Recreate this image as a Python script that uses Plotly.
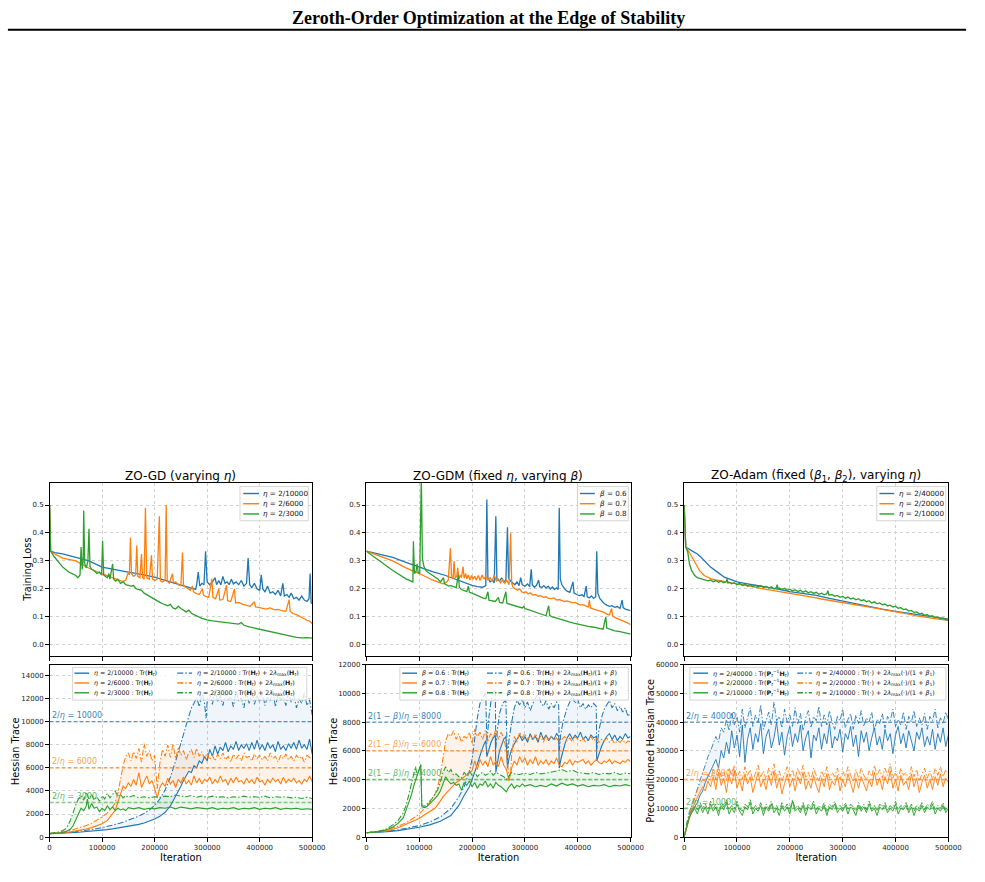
import plotly.graph_objects as go

# ---------------- colours ----------------
BLUE, ORANGE, GREEN = "#1f77b4", "#ff7f0e", "#2ca02c"
FILL_BLUE = "rgba(31,119,180,0.07)"
FILL_ORANGE = "rgba(255,127,14,0.09)"
FILL_GREEN = "rgba(44,160,44,0.09)"

# ---------------- axes values ----------------
X_MAX = 500000
X_TICKS = [0, 100000, 200000, 300000, 400000, 500000]
LOSS_TICKS = [0.0, 0.1, 0.2, 0.3, 0.4, 0.5]
LOSS_RANGE = [-0.041, 0.579]
GD_TR_TICKS = [0, 2000, 4000, 6000, 8000, 10000, 12000, 14000]
GD_TR_RANGE = [0, 14950]
GDM_TR_TICKS = [0, 2000, 4000, 6000, 8000, 10000, 12000]
GDM_TR_RANGE = [0, 12000]
ADAM_TR_TICKS = [0, 10000, 20000, 30000, 40000, 50000, 60000]
ADAM_TR_RANGE = [0, 60000]

# ---------------- labels ----------------
GD_NAMES = ["<i>η</i> = 2/10000", "<i>η</i> = 2/6000", "<i>η</i> = 2/3000"]
GDM_NAMES = ["<i>β</i> = 0.6", "<i>β</i> = 0.7", "<i>β</i> = 0.8"]
ADAM_NAMES = ["<i>η</i> = 2/40000", "<i>η</i> = 2/20000", "<i>η</i> = 2/10000"]
HT = "<b>H</b><sub><i>t</i></sub>"
GD_TR_SUFFIX = " : Tr(" + HT + ")"
GD_BOUND_SUFFIX = " : Tr(" + HT + ") + 2<i>λ</i><sub>max</sub>(" + HT + ")"
GDM_TR_SUFFIX = " : Tr(" + HT + ")"
GDM_BOUND_SUFFIX = " : Tr(" + HT + ") + 2<i>λ</i><sub>max</sub>(" + HT + ")/(1 + <i>β</i>)"
ADAM_TR_SUFFIX = " : Tr(<b>P</b><sub><i>t</i></sub><sup>−1</sup>" + HT + ")"
ADAM_BOUND_SUFFIX = " : Tr(·) + 2<i>λ</i><sub>max</sub>(·)/(1 + <i>β</i><sub>1</sub>)"

GD_THRESH = [10000, 6000, 3000]
GD_THRESH_TEXT = ["2/<i>η</i> = 10000", "2/<i>η</i> = 6000", "2/<i>η</i> = 3000"]
GDM_THRESH = [8000, 6000, 4000]
GDM_THRESH_TEXT = ["2(1 − <i>β</i>)/<i>η</i> = 8000", "2(1 − <i>β</i>)/<i>η</i> = 6000",
                   "2(1 − <i>β</i>)/<i>η</i> = 4000"]
ADAM_THRESH = [40000, 20000, 10000]
ADAM_THRESH_TEXT = ["2/<i>η</i> = 40000", "2/<i>η</i> = 20000", "2/<i>η</i> = 10000"]

TITLES = ["ZO-GD (varying <i>η</i>)", "ZO-GDM (fixed <i>η</i>, varying <i>β</i>)",
          "ZO-Adam (fixed (<i>β</i><sub>1</sub>, <i>β</i><sub>2</sub>), varying <i>η</i>)"]
Y_TITLES = ["Training Loss", "Hessian Trace", "Hessian Trace", "Preconditioned Hessian Trace"]
HEADER = "<b>Zeroth-Order Optimization at the Edge of Stability</b>"

# ---------------- training loss (iteration in thousands, loss) ----------------
GD_LOSS_BLUE = [(0,0.5),(2,0.335),(10,0.33),(25,0.325),(50,0.313),(75,0.3),(100,0.278),(125,0.268),(150,0.26),
    (175,0.252),(200,0.242),(225,0.228),(250,0.213),(262,0.205),(272,0.2),(278,0.198),(280,0.215),(283,0.26),
    (286,0.21),(290,0.22),(294,0.215),(297,0.335),(300,0.225),(305,0.215),(310,0.225),(315,0.24),(318,0.215),
    (322,0.23),(326,0.215),(330,0.245),(334,0.22),(338,0.225),(342,0.215),(346,0.235),(350,0.218),(355,0.225),
    (360,0.215),(365,0.23),(370,0.21),(375,0.22),(378,0.31),(381,0.215),(385,0.205),(390,0.22),(395,0.2),
    (400,0.195),(403,0.25),(406,0.2),(410,0.19),(415,0.21),(420,0.185),(425,0.19),(430,0.18),(435,0.195),
    (440,0.175),(444,0.22),(447,0.175),(452,0.18),(456,0.17),(460,0.185),(465,0.165),(470,0.17),(475,0.16),
    (480,0.175),(485,0.16),(490,0.155),(494,0.165),(496,0.255),(498,0.15),(500,0.148)]
GD_LOSS_ORANGE = [(0,0.5),(2,0.335),(10,0.325),(25,0.31),(50,0.3),(75,0.274),(100,0.254),(125,0.236),(140,0.226),
    (145,0.232),(150,0.26),(152,0.25),(154,0.384),(156,0.255),(160,0.245),(164,0.25),(166,0.355),(168,0.245),
    (172,0.24),(175,0.325),(177,0.242),(180,0.235),(182.5,0.49),(185,0.24),(190,0.235),(194,0.32),(196,0.235),
    (200,0.23),(205,0.235),(209,0.46),(211,0.23),(215,0.225),(220,0.232),(222,0.5),(224,0.228),(228,0.22),
    (234,0.254),(236,0.22),(240,0.225),(245,0.215),(250,0.212),(253,0.33),(255,0.21),(260,0.205),(265,0.2),
    (268,0.195),(272,0.21),(274,0.19),(278,0.185),(285,0.18),(291,0.2),(293,0.178),(298,0.172),(303,0.17),
    (309,0.236),(311,0.17),(316,0.165),(322,0.2),(324,0.16),(330,0.162),(337,0.213),(339,0.158),(345,0.155),
    (352,0.2),(354,0.15),(360,0.152),(368,0.145),(375,0.142),(382,0.138),(390,0.154),(392,0.136),(398,0.134),
    (405,0.13),(412,0.128),(420,0.132),(428,0.125),(435,0.127),(442,0.122),(450,0.12),(456,0.162),(458,0.12),
    (463,0.112),(470,0.108),(477,0.1),(484,0.095),(490,0.088),(495,0.085),(500,0.076)]
GD_LOSS_GREEN = [(0,0.5),(2,0.335),(9,0.315),(25,0.278),(37,0.26),(50,0.248),(54,0.24),(58,0.25),(60,0.35),
    (62,0.27),(64,0.3),(65,0.48),(67,0.29),(70,0.275),(73,0.3),(75,0.415),(77,0.28),(80,0.27),(85,0.265),
    (90,0.255),(95,0.26),(99,0.25),(101,0.372),(103,0.25),(106,0.245),(110,0.24),(113,0.255),(115,0.235),
    (120,0.29),(122,0.235),(126,0.228),(130,0.235),(135,0.22),(140,0.225),(145,0.215),(150,0.213),(155,0.21),
    (160,0.212),(165,0.2),(170,0.198),(175,0.195),(180,0.185),(185,0.18),(190,0.175),(195,0.17),(200,0.165),
    (205,0.158),(210,0.152),(215,0.147),(220,0.142),(225,0.14),(230,0.145),(235,0.132),(240,0.128),(245,0.138),
    (250,0.13),(255,0.125),(260,0.118),(265,0.124),(270,0.113),(275,0.108),(280,0.103),(285,0.098),(290,0.095),
    (295,0.092),(300,0.089),(310,0.086),(320,0.084),(330,0.081),(340,0.079),(350,0.077),(360,0.074),(365,0.08),
    (370,0.07),(380,0.064),(390,0.06),(400,0.055),(410,0.05),(420,0.046),(430,0.042),(440,0.038),(450,0.035),
    (460,0.03),(470,0.027),(480,0.025),(490,0.026),(500,0.024)]

GDM_LOSS_BLUE = [(0,0.335),(25,0.325),(50,0.313),(75,0.295),(100,0.278),(125,0.262),(150,0.248),(175,0.23),
    (200,0.213),(210,0.208),(220,0.206),(226,0.212),(228,0.52),(230,0.24),(234,0.225),(238,0.232),(242,0.222),
    (245,0.46),(247,0.235),(252,0.228),(256,0.24),(260,0.225),(264,0.232),(267,0.42),(269,0.24),(273,0.228),
    (277,0.22),(281,0.215),(285,0.225),(289,0.212),(292,0.24),(295,0.215),(300,0.21),(305,0.218),(309,0.208),
    (312,0.27),(314,0.215),(318,0.206),(322,0.213),(326,0.232),(328,0.208),(332,0.205),(336,0.212),(340,0.203),
    (344,0.21),(348,0.2),(352,0.207),(356,0.198),(360,0.204),(363,0.198),(365,0.49),(367,0.235),(370,0.215),
    (375,0.2),(380,0.192),(385,0.188),(391,0.225),(393,0.185),(398,0.18),(403,0.176),(408,0.179),(412,0.173),
    (416,0.21),(418,0.172),(422,0.168),(426,0.175),(430,0.166),(434,0.172),(436,0.335),(438,0.185),(442,0.165),
    (446,0.155),(450,0.148),(455,0.142),(460,0.138),(465,0.14),(470,0.134),(475,0.137),(480,0.13),(484,0.16),
    (486,0.133),(490,0.128),(495,0.126),(500,0.122)]
GDM_LOSS_ORANGE = [(0,0.335),(25,0.318),(50,0.3),(75,0.275),(100,0.255),(125,0.232),(145,0.218),(152,0.225),
    (155,0.232),(159,0.345),(161,0.25),(164,0.235),(166,0.3),(168,0.24),(171,0.245),(173,0.275),(175,0.235),
    (178,0.25),(180,0.24),(183,0.28),(185,0.238),(188,0.255),(190,0.236),(193,0.25),(196,0.232),(199,0.248),
    (202,0.235),(205,0.245),(208,0.232),(212,0.248),(215,0.23),(219,0.25),(222,0.235),(226,0.245),(230,0.232),
    (234,0.24),(238,0.228),(242,0.25),(246,0.228),(250,0.235),(254,0.222),(258,0.232),(262,0.22),(266,0.23),
    (270,0.215),(273,0.4),(275,0.22),(278,0.205),(282,0.2),(286,0.195),(290,0.2),(294,0.19),(298,0.186),
    (302,0.19),(306,0.182),(310,0.186),(315,0.178),(320,0.18),(325,0.174),(330,0.176),(335,0.17),(340,0.172),
    (345,0.166),(350,0.165),(355,0.168),(360,0.16),(365,0.162),(370,0.158),(375,0.155),(380,0.157),(385,0.152),
    (390,0.15),(395,0.152),(400,0.146),(405,0.142),(410,0.144),(415,0.138),(420,0.135),(422,0.16),(424,0.132),
    (430,0.128),(435,0.125),(440,0.122),(445,0.12),(450,0.116),(455,0.11),(460,0.107),(464,0.13),(466,0.104),
    (470,0.098),(475,0.094),(480,0.09),(485,0.088),(490,0.082),(495,0.078),(500,0.072)]
GDM_LOSS_GREEN = [(0,0.335),(25,0.3),(50,0.266),(75,0.236),(88,0.225),(89,0.37),(91,0.255),(94,0.262),(96,0.29),
    (98,0.26),(101,0.255),(104,0.6),(106,0.31),(109,0.28),(113,0.265),(118,0.258),(124,0.25),(130,0.242),
    (136,0.235),(140,0.225),(146,0.24),(148,0.218),(152,0.215),(156,0.21),(160,0.212),(165,0.208),(170,0.205),
    (174,0.25),(176,0.205),(180,0.198),(185,0.195),(190,0.19),(193,0.21),(195,0.188),(200,0.185),(205,0.18),
    (210,0.175),(215,0.172),(220,0.168),(226,0.165),(230,0.19),(232,0.16),(238,0.158),(244,0.155),(250,0.17),
    (252,0.152),(258,0.15),(264,0.19),(266,0.148),(272,0.145),(278,0.142),(284,0.14),(290,0.135),(295,0.132),
    (298,0.138),(300,0.13),(305,0.127),(310,0.124),(315,0.12),(320,0.117),(325,0.114),(330,0.11),(335,0.107),
    (340,0.104),(345,0.14),(347,0.105),(352,0.1),(360,0.095),(368,0.09),(376,0.086),(384,0.082),(392,0.078),
    (400,0.074),(410,0.07),(420,0.066),(430,0.063),(440,0.06),(448,0.056),(453,0.1),(455,0.06),(462,0.055),
    (470,0.05),(480,0.047),(490,0.042),(500,0.038)]

ADAM_LOSS_BLUE = [(0,0.5),(3,0.35),(14,0.337),(25,0.325),(32,0.313),(38,0.3),(50,0.278),(63,0.26),(76,0.242),
    (90,0.232),(100,0.225),(120,0.218),(140,0.212),(160,0.205),(180,0.198),(200,0.19),(225,0.184),(250,0.177),
    (275,0.166),(300,0.156),(325,0.146),(350,0.136),(375,0.128),(400,0.12),(425,0.113),(450,0.106),(475,0.099),
    (500,0.092)]
ADAM_LOSS_ORANGE = [(0,0.5),(3,0.35),(10,0.33),(20,0.295),(29,0.266),(38,0.248),(51,0.236),(60,0.232),(70,0.228),
    (80,0.225),(90,0.222),(100,0.218),(110,0.215),(120,0.212),(130,0.207),(140,0.204),(150,0.2),(160,0.197),
    (170,0.193),(180,0.19),(190,0.186),(200,0.183),(210,0.18),(220,0.177),(230,0.174),(240,0.171),(250,0.168),
    (260,0.164),(270,0.161),(280,0.157),(290,0.154),(300,0.15),(310,0.148),(320,0.145),(330,0.142),(340,0.139),
    (350,0.136),(360,0.132),(370,0.129),(380,0.125),(390,0.122),(400,0.118),(410,0.115),(420,0.111),(430,0.108),
    (440,0.104),(450,0.1),(460,0.098),(470,0.095),(480,0.093),(490,0.09),(500,0.088)]
ADAM_LOSS_GREEN = [(0,0.5),(3,0.35),(7,0.33),(10,0.29),(14,0.266),(20,0.248),(25,0.24),(32,0.236),(40,0.233),
    (45,0.229),(50,0.232),(55,0.226),(60,0.23),(65,0.224),(70,0.228),(75,0.222),(80,0.226),(81,0.236),(83,0.221),
    (85,0.224),(90,0.218),(95,0.222),(100,0.215),(105,0.22),(110,0.212),(115,0.217),(120,0.21),(125,0.215),
    (130,0.209),(135,0.213),(140,0.207),(145,0.212),(150,0.205),(155,0.209),(160,0.203),(165,0.208),(170,0.2),
    (175,0.206),(176,0.215),(178,0.199),(180,0.203),(185,0.198),(190,0.202),(195,0.195),(200,0.199),(205,0.193),
    (210,0.197),(215,0.191),(220,0.195),(225,0.188),(230,0.193),(235,0.186),(240,0.19),(245,0.184),(250,0.188),
    (255,0.181),(260,0.185),(265,0.179),(270,0.183),(272,0.194),(274,0.178),(280,0.18),(285,0.174),(290,0.177),
    (295,0.17),(300,0.174),(305,0.167),(310,0.171),(315,0.164),(320,0.168),(325,0.161),(330,0.165),(335,0.158),
    (340,0.161),(345,0.154),(350,0.158),(355,0.15),(360,0.154),(365,0.147),(370,0.15),(375,0.143),(380,0.146),
    (385,0.139),(390,0.142),(395,0.135),(400,0.138),(405,0.131),(410,0.133),(415,0.126),(420,0.128),(425,0.121),
    (430,0.123),(435,0.116),(440,0.118),(445,0.111),(450,0.113),(455,0.106),(460,0.108),(465,0.102),(470,0.104),
    (475,0.098),(480,0.099),(485,0.094),(490,0.095),(495,0.09),(500,0.089)]

# ---------------- Hessian trace, ZO-GD ----------------
GD_TR_BLUE = [(0,300),(10,310),(20,330),(30,350),(40,380),(50,410),(60,440),(70,470),(80,510),(90,550),(100,600),
    (110,650),(120,710),(130,780),(140,850),(150,920),(160,1000),(170,1100),(180,1220),(190,1380),(200,1560),
    (210,1800),(220,2150),(230,2700),(240,3500),(250,4400),(255,4900),(260,5300),(265,5700),(270,5600),(275,6200),
    (280,6000),(285,6600),(290,6400),(295,7000),(300,6600),(305,7600),(310,7000),(315,7900),(320,7200),(325,7800),
    (330,7500),(335,8200),(340,7400),(345,7900),(350,7600),(355,8300),(360,7500),(365,8000),(370,7700),(375,8100),
    (380,7500),(385,8200),(390,7600),(395,8400),(400,7600),(405,8000),(410,7500),(415,8200),(420,7700),(425,8000),
    (430,7400),(435,8300),(440,7600),(445,7900),(450,7500),(455,8100),(460,7700),(465,8200),(470,7600),(475,8400),
    (480,7700),(485,8000),(490,7600),(495,8500),(500,7200)]
GD_BOUND_BLUE = [(0,300),(10,320),(20,350),(30,380),(40,420),(50,470),(60,520),(70,580),(80,650),(90,730),(100,820),
    (110,920),(120,1030),(130,1150),(140,1290),(150,1450),(160,1620),(170,1820),(180,2050),(190,2350),(200,2750),
    (210,3300),(220,4100),(230,5200),(240,6600),(250,8000),(255,8900),(260,9700),(265,10400),(270,11200),
    (275,11600),(280,12100),(285,11300),(290,12500),(295,11600),(298,10300),(300,11800),(305,12400),(310,11500),
    (315,12800),(320,11700),(325,12300),(330,11400),(335,12600),(340,11900),(345,12200),(350,11300),(355,12700),
    (360,11800),(365,12100),(370,11200),(375,12500),(380,11600),(385,12900),(390,11500),(395,12300),(400,11700),
    (405,12600),(410,11400),(415,12200),(420,11800),(425,12800),(430,11300),(435,12400),(440,11900),(445,12100),
    (450,11400),(455,12600),(460,11700),(465,12300),(470,11200),(475,12000),(480,11600),(485,12500),(490,11400),
    (495,11900),(500,10600)]
GD_TR_ORANGE = [(0,300),(10,320),(20,350),(30,400),(40,450),(50,520),(60,600),(70,700),(80,820),(90,960),(100,1150),
    (110,1450),(120,2000),(125,2300),(130,3000),(135,3700),(140,4400),(145,4200),(150,4700),(155,4400),(160,5000),
    (165,4500),(170,5600),(175,4300),(180,4800),(185,5300),(190,4600),(195,4900),(200,4200),(205,3400),(210,4300),
    (215,4700),(220,4400),(225,5100),(230,4600),(235,4900),(240,4300),(245,5000),(250,4700),(255,5200),(260,4600),
    (265,4900),(270,4500),(275,5300),(280,4700),(285,5100),(290,4600),(295,5000),(300,4800),(305,5200),(310,4600),
    (315,5000),(320,4700),(325,5300),(330,4800),(335,5000),(340,4500),(345,5100),(350,4700),(355,5200),(360,4800),
    (365,4900),(370,4600),(375,5100),(380,4700),(385,5000),(390,4600),(395,5200),(400,4800),(405,4900),(410,4500),
    (415,5000),(420,4700),(425,5100),(430,4800),(435,5000),(440,4600),(445,5200),(450,4700),(455,5000),(460,4800),
    (465,5100),(470,4700),(475,4900),(480,4600),(485,5000),(490,4800),(495,5300),(500,4800)]
GD_BOUND_ORANGE = [(0,300),(10,340),(20,400),(30,480),(40,580),(50,700),(60,850),(70,1000),(80,1200),(90,1450),
    (100,1750),(110,2100),(120,2600),(125,3000),(130,3800),(135,5000),(140,6200),(145,7000),(150,7300),(155,6600),
    (160,7400),(165,6800),(170,7700),(175,6500),(180,8100),(185,7000),(190,7500),(195,6600),(200,7100),(205,4200),
    (208,5500),(210,6400),(215,7600),(220,7000),(225,8000),(230,6900),(235,8100),(240,6800),(245,7800),(250,7100),
    (255,7500),(260,6700),(265,7300),(270,7600),(275,6900),(280,7700),(285,7000),(290,7400),(295,6800),(300,7300),
    (305,6700),(310,7100),(315,6600),(320,7200),(325,6800),(330,7300),(335,6700),(340,7000),(345,6500),(350,7200),
    (355,6800),(360,7100),(365,6600),(370,7300),(375,6900),(380,7000),(385,6600),(390,7200),(395,6800),(400,7100),
    (405,6700),(410,7000),(415,6600),(420,7300),(425,6800),(430,7000),(435,6500),(440,7100),(445,6800),(450,7200),
    (455,6700),(460,7000),(465,6600),(470,7100),(475,6800),(480,7000),(485,6500),(490,7100),(495,6900),(500,6800)]
GD_TR_GREEN = [(0,300),(10,310),(20,350),(30,450),(40,700),(45,1000),(50,1500),(55,2000),(60,2500),(65,2300),
    (70,2700),(72,3300),(75,2400),(80,2900),(85,2500),(90,2600),(95,2200),(100,2500),(105,2300),(110,2700),
    (115,2400),(120,2600),(125,2300),(130,2500),(135,2350),(140,2450),(145,2300),(150,2550),(160,2450),(170,2550),
    (180,2400),(190,2500),(200,2450),(210,2550),(220,2500),(230,2600),(240,2450),(250,2600),(260,2550),(270,2450),
    (280,2550),(290,2500),(300,2450),(310,2550),(320,2400),(330,2500),(340,2450),(350,2550),(360,2400),(370,2500),
    (380,2450),(390,2550),(400,2400),(410,2500),(420,2450),(430,2550),(440,2400),(450,2500),(460,2450),(470,2500),
    (480,2400),(490,2450),(500,2400)]
GD_BOUND_GREEN = [(0,300),(10,350),(20,450),(30,700),(35,1000),(40,1500),(45,2200),(50,2800),(55,3300),(60,3600),
    (65,3200),(70,3900),(75,3300),(80,3700),(85,3200),(90,3500),(95,3100),(100,3600),(105,3300),(110,3800),
    (115,3400),(120,3700),(125,4000),(130,3500),(135,3700),(140,3400),(145,3600),(150,3450),(160,3600),(170,3400),
    (180,3500),(190,3400),(200,3500),(210,3450),(220,3550),(230,3500),(240,3650),(250,3550),(260,3500),(270,3600),
    (280,3450),(290,3550),(300,3450),(310,3550),(320,3450),(330,3500),(340,3400),(350,3500),(360,3450),(370,3550),
    (380,3450),(390,3500),(400,3450),(410,3550),(420,3400),(430,3500),(440,3450),(450,3500),(460,3400),(470,3450),
    (480,3350),(490,3450),(500,3350)]

# ---------------- Hessian trace, ZO-GDM ----------------
GDM_TR_BLUE = [(0,300),(20,330),(40,380),(60,450),(80,550),(100,680),(120,850),(140,1100),(160,1500),(175,2200),
    (185,2900),(195,3500),(205,4500),(212,5400),(218,6000),(222,6400),(226,6700),(228,5600),(232,6200),(236,6600),
    (240,6900),(244,7100),(245,4500),(248,5200),(252,6000),(256,6400),(260,6800),(264,7000),(267,4800),(270,5500),
    (275,6100),(280,6500),(285,6800),(290,7100),(295,6700),(300,7000),(305,6600),(310,7200),(315,6800),(320,7000),
    (325,6600),(330,7300),(335,6800),(340,7100),(345,6700),(350,7000),(355,6800),(360,7200),(364,7000),(365,4800),
    (368,5400),(372,6000),(376,6500),(380,6900),(385,7200),(390,6800),(395,7100),(400,6900),(405,7300),(410,6800),
    (415,7000),(420,6700),(425,7100),(430,6900),(435,7000),(436,5300),(440,5800),(445,6300),(450,6700),(455,7000),
    (460,7200),(465,6800),(470,7100),(475,6700),(480,7000),(485,6800),(490,7200),(495,6900),(500,7000)]
GDM_BOUND_BLUE = [(0,300),(20,340),(40,410),(60,500),(80,630),(100,800),(120,1050),(140,1400),(160,2000),(175,2800),
    (185,3500),(195,4600),(200,5400),(205,7000),(210,8300),(215,9300),(220,9700),(226,10000),(228,6500),(232,8400),
    (236,9500),(240,10000),(244,10400),(245,6200),(248,7500),(252,8600),(256,9100),(260,9400),(264,9500),(267,5300),
    (270,6800),(275,8000),(280,9000),(285,9500),(290,9200),(295,9600),(300,9000),(305,9400),(310,8800),(315,9300),
    (320,9700),(325,10000),(330,9400),(335,9100),(340,9500),(345,8900),(350,9300),(355,9000),(360,9400),(364,9200),
    (365,6000),(368,7200),(372,8000),(376,8600),(380,9000),(385,9400),(390,9800),(395,9300),(400,9600),(405,9000),
    (410,9300),(415,8900),(420,9200),(425,9000),(430,9300),(435,9100),(436,6100),(440,7400),(445,8300),(450,8900),
    (455,9200),(460,9500),(465,9000),(470,9300),(475,8800),(480,9100),(485,8700),(490,9000),(495,8400),(500,8700)]
GDM_TR_ORANGE = [(0,300),(20,350),(40,450),(60,650),(80,950),(100,1300),(110,1550),(120,1800),(130,2000),(140,2500),
    (145,2800),(150,3000),(155,3200),(160,3400),(165,3600),(170,3800),(175,3900),(180,4050),(185,4200),(190,4350),
    (195,4450),(200,4600),(205,5300),(210,4700),(215,5400),(220,5000),(225,5300),(230,4900),(235,5600),(240,5000),
    (245,5300),(250,4900),(255,5600),(260,5000),(265,4700),(270,3900),(272,4300),(275,4800),(280,5300),(285,5000),
    (290,5600),(295,5200),(300,5500),(305,5000),(310,5400),(315,5100),(320,5600),(325,5000),(330,5300),(335,5100),
    (340,5400),(345,5000),(350,5300),(355,5100),(360,5500),(365,5000),(370,4900),(375,5200),(380,5100),(385,5400),
    (390,5000),(395,5300),(400,5200),(410,5400),(415,5100),(420,5300),(425,5000),(430,5200),(435,5400),(440,5200),
    (445,5100),(450,5300),(455,5200),(460,5400),(465,5100),(470,5300),(475,5200),(480,5100),(485,5300),(490,5200),
    (495,5400),(500,5250)]
GDM_BOUND_ORANGE = [(0,300),(20,380),(40,520),(60,750),(80,1100),(100,1600),(110,2000),(120,2400),(130,3000),
    (135,3500),(140,4300),(145,5500),(150,6700),(155,7200),(160,7000),(165,7400),(170,6800),(175,7200),(180,6600),
    (185,7000),(190,6900),(195,7300),(200,6500),(205,7500),(210,7000),(215,7300),(220,6800),(225,7400),(230,6700),
    (235,7200),(240,6900),(245,7500),(250,6800),(255,7300),(260,6900),(265,6000),(270,4000),(273,4500),(275,5800),
    (280,7000),(285,6600),(290,7300),(295,6900),(300,7200),(305,6800),(310,7000),(315,6700),(320,7200),(325,6800),
    (330,7000),(335,6600),(340,7100),(345,6800),(350,7000),(355,6700),(360,6900),(365,6600),(370,6800),(375,7000),
    (380,6700),(385,6900),(390,6600),(395,7000),(400,6800),(405,6700),(410,6900),(415,6600),(420,6800),(425,7000),
    (430,6700),(435,6900),(440,6600),(445,6800),(450,6700),(455,6900),(460,6600),(465,6800),(470,6500),(475,6700),
    (480,6600),(485,6800),(490,6500),(495,6700),(500,6600)]
GDM_TR_GREEN = [(0,300),(10,320),(20,360),(30,430),(40,530),(50,700),(60,950),(70,1350),(80,2300),(85,2900),
    (90,3600),(95,4200),(100,4850),(103,5050),(105,2100),(110,2050),(115,2150),(120,2300),(125,2500),(130,2700),
    (135,2900),(140,3200),(145,3700),(150,4200),(155,3900),(160,3700),(165,3800),(170,3600),(175,3700),(180,3250),
    (185,3800),(190,3600),(195,3900),(200,3500),(205,3800),(210,3400),(215,3700),(220,3600),(225,3900),(230,3500),
    (235,3700),(240,3400),(245,3800),(250,3600),(255,3500),(260,3300),(265,3150),(270,3500),(275,3700),(280,3400),
    (285,3600),(290,3500),(295,3700),(300,3550),(310,3650),(320,3500),(330,3600),(340,3500),(350,3700),(360,3550),
    (370,3750),(380,3600),(390,3700),(400,3550),(410,3650),(420,3500),(430,3600),(440,3550),(450,3650),(460,3500),
    (470,3600),(480,3550),(490,3650),(500,3550)]
GDM_BOUND_GREEN = [(0,300),(10,330),(20,380),(30,470),(40,600),(50,850),(60,1150),(70,1700),(75,2200),(80,2900),
    (85,3700),(90,4500),(93,4900),(96,4300),(100,4800),(103,5000),(105,2200),(110,2150),(115,2300),(120,2500),
    (125,2700),(130,3000),(135,3300),(140,3800),(145,4500),(150,4900),(155,4500),(160,4700),(165,4300),(170,4400),
    (175,4200),(180,4100),(185,4500),(190,4300),(195,4600),(200,4300),(205,4500),(210,4200),(215,4400),(220,4500),
    (225,4300),(230,4400),(235,4600),(240,4300),(245,4500),(250,4400),(255,4300),(260,4200),(265,4000),(270,4300),
    (275,4500),(280,4400),(290,4350),(300,4450),(310,4350),(320,4500),(330,4400),(340,4450),(350,4500),(360,4600),
    (370,4700),(380,4550),(390,4650),(400,4500),(410,4450),(420,4400),(430,4500),(440,4350),(450,4450),(460,4400),
    (470,4500),(480,4350),(490,4450),(500,4400)]

# ---------------- preconditioned Hessian trace, ZO-Adam (every 5k iterations) ----------------
ADAM_ITER_K = list(range(0, 501, 5))
ADAM_TR_BLUE = [0,4000,7000,9000,10500,12000,14500,16000,19000,21000,
    23000,25500,27000,24000,30000,27500,33000,29000,37000,31000,
    35500,28000,39000,26000,34000,38000,30500,36000,33000,39500,
    29000,35000,37500,31000,34500,40000,32000,36500,28500,35000,
    38500,31500,36000,33000,39000,30000,34500,37000,27500,35500,
    33500,38000,30500,36000,32500,39500,31000,35000,33500,37500,
    29500,36000,34000,38500,31500,35500,28000,37000,33000,36500,
    30000,34500,38000,32000,35000,30500,37500,33500,36000,29000,
    35500,38500,32500,36000,31000,37000,33500,30000,36500,34000,
    38000,31500,35000,32000,37500,30500,36000,33000,38000,31500,35500]
ADAM_BOUND_BLUE = [0,5000,9000,11000,14000,17000,20000,22500,25000,28000,
    30000,32500,35000,33000,38000,36500,41000,37000,43000,39000,
    42000,36500,44500,38000,41500,45000,38500,42500,40000,46000,
    37500,41000,43500,39000,47000,40500,42000,38000,44500,40000,
    42500,38500,45000,39500,43000,37000,41500,44000,38000,42000,
    40500,45500,38500,42500,39000,44000,40000,37500,42000,40500,
    44500,38000,41000,43000,37500,42500,39500,44000,38500,41500,
    40000,43500,37000,41000,39500,43000,38000,42000,40500,44500,
    38500,41000,39000,43500,37500,42000,40000,44000,38500,41500,
    39000,43000,37500,42000,40500,44500,38000,41500,39500,43500,41000]
ADAM_TR_ORANGE = [0,3500,6500,9500,12000,14000,16000,17500,16000,19500,
    17500,21000,16500,22500,18000,20500,15500,21500,18500,23000,
    17000,20000,16000,22000,18500,21000,15500,19500,22500,17500,
    20000,16500,21500,18000,23000,17000,20500,15000,19000,22000,
    17500,20500,16000,21000,18500,22500,16500,19500,17000,21500,
    18000,15500,20500,17500,22000,16500,19500,18000,21500,16000,
    20000,17500,22000,18500,15500,20500,17000,21000,18500,16000,
    20000,17500,22500,18000,20500,16500,21000,18500,23000,17000,
    20000,16000,21500,18000,19500,16500,22000,17500,20500,15500,
    19000,21500,17000,20000,16500,21000,18000,22000,17500,20500,19000]
ADAM_BOUND_ORANGE = [0,4500,8000,11000,14000,16500,18500,20000,19500,22000,
    20500,23500,20000,24500,21000,23000,19500,24000,21500,25000,
    20500,23000,20000,24500,21500,23500,19500,22500,25000,21000,
    23000,20000,24000,21500,25500,20500,23000,19500,22000,24500,
    21000,23500,20000,24000,21500,25000,20500,22500,20000,24000,
    21500,19500,23000,21000,24500,20500,22500,21000,24000,20000,
    23000,21000,24500,21500,19500,23500,20500,24000,21500,20000,
    23000,21000,25000,21500,23500,20500,24000,21500,25500,20500,
    23000,20000,24000,21500,22500,20000,24500,21000,23500,19500,
    22000,24000,20500,23000,20000,24000,21500,24500,21000,23500,22000]
ADAM_TR_GREEN = [0,4000,7000,8500,10000,8000,11000,8500,10500,8000,
    11500,9000,10500,7500,11000,9500,12000,8000,10000,8500,
    11500,9000,7500,10500,9500,12000,8000,10000,9000,11000,
    7500,10500,9000,11500,8500,10000,7500,11000,9000,10500,
    8000,12500,9000,10000,8500,11000,7500,10500,9500,11500,
    8000,10000,9000,11000,7500,10500,9500,11500,8500,10000,
    9000,11000,8000,10500,9500,7500,11000,9000,10500,8500,
    11500,9000,10000,7500,10500,9500,11000,8500,10000,9000,
    11500,8000,10000,9500,11000,8500,10500,7500,10000,9000,
    11000,8500,10500,9500,11500,8000,10000,9000,11000,8500,10000]
ADAM_BOUND_GREEN = [0,5000,8000,9500,11000,9500,12000,10000,11500,9500,
    12500,10000,11500,9000,12000,10500,13000,9500,11000,10000,
    12500,10000,9000,11500,10500,13000,9500,11000,10000,12000,
    9000,11500,10000,12500,9500,11000,9000,12000,10000,11500,
    9500,13000,10000,11000,9500,12000,9000,11500,10500,12500,
    9500,11000,10000,12000,9000,11500,10500,12500,9500,11000,
    10000,12000,9500,11500,10500,9000,12000,10000,11500,9500,
    12500,10000,11000,9000,11500,10500,12000,9500,11000,10000,
    12500,9500,11000,10500,12000,9500,11500,9000,11000,10000,
    12000,9500,11500,10500,12500,9500,11000,10000,12000,9500,11000]

# ---------------- helpers ----------------
FONT = "DejaVu Sans"
W, H = 985, 882
DASHDOT = "6px,2px,1.5px,2px"
DASHED = "4px,2px"
COLORS = [BLUE, ORANGE, GREEN]
FILLS = [FILL_BLUE, FILL_ORANGE, FILL_GREEN]
fig = go.Figure()
shapes, annotations = [], []


def px_x(v):
    return v / W


def px_y(v):
    return 1 - v / H


def xy(pairs):
    return [p[0] * 1000 for p in pairs], [p[1] for p in pairs]


def grid(values):
    return [k * 1000 for k in ADAM_ITER_K], values


def line(x, y, ax, color, width, dash, name):
    fig.add_trace(go.Scatter(x=x, y=y, mode="lines", xaxis="x" + ax, yaxis="y" + ax,
                             line=dict(color=color, width=width, dash=dash),
                             name=name, showlegend=False, hoverinfo="skip"))


def band(lo, hi, ax, fillcolor):
    fig.add_trace(go.Scatter(x=lo[0], y=lo[1], mode="lines", xaxis="x" + ax, yaxis="y" + ax,
                             line=dict(width=0), showlegend=False, hoverinfo="skip"))
    fig.add_trace(go.Scatter(x=hi[0], y=hi[1], mode="lines", xaxis="x" + ax, yaxis="y" + ax,
                             line=dict(width=0), fill="tonexty", fillcolor=fillcolor,
                             showlegend=False, hoverinfo="skip"))


def legend_box(box, rows, cols, size):
    """box in pixels (left, top, right, bottom); cols = [(x0, x1, text_x, [(color, dash, text), ...])]"""
    l, t, r, b = box
    shapes.append(dict(type="rect", xref="paper", yref="paper", x0=px_x(l), x1=px_x(r),
                       y0=px_y(b), y1=px_y(t), fillcolor="rgba(255,255,255,0.8)",
                       line=dict(color="#cccccc", width=0.8), layer="above"))
    for x0, x1, tx, entries in cols:
        for ry, (c, d, txt) in zip(rows, entries):
            shapes.append(dict(type="line", xref="paper", yref="paper", x0=px_x(x0), x1=px_x(x1),
                               y0=px_y(ry), y1=px_y(ry), line=dict(color=c, width=1.4, dash=d),
                               layer="above"))
            annotations.append(dict(xref="paper", yref="paper", x=px_x(tx), y=px_y(ry), text=txt,
                                    showarrow=False, xanchor="left", yanchor="middle", borderpad=0,
                                    font=dict(family=FONT, size=size, color="#111")))


# ---------------- top row: training loss ----------------
TOP = [("", GD_NAMES, [GD_LOSS_BLUE, GD_LOSS_ORANGE, GD_LOSS_GREEN]),
       ("2", GDM_NAMES, [GDM_LOSS_BLUE, GDM_LOSS_ORANGE, GDM_LOSS_GREEN]),
       ("3", ADAM_NAMES, [ADAM_LOSS_BLUE, ADAM_LOSS_ORANGE, ADAM_LOSS_GREEN])]
for ax, names, series in TOP:
    for c, nm, s in zip(COLORS, names, series):
        x, y = xy(s)
        line(x, y, ax, c, 1.3, "solid", nm)

# ---------------- bottom row: Hessian traces ----------------
BOTTOM = [
    ("4", GD_NAMES, GD_TR_SUFFIX, GD_BOUND_SUFFIX,
     [xy(GD_TR_BLUE), xy(GD_TR_ORANGE), xy(GD_TR_GREEN)],
     [xy(GD_BOUND_BLUE), xy(GD_BOUND_ORANGE), xy(GD_BOUND_GREEN)]),
    ("5", GDM_NAMES, GDM_TR_SUFFIX, GDM_BOUND_SUFFIX,
     [xy(GDM_TR_BLUE), xy(GDM_TR_ORANGE), xy(GDM_TR_GREEN)],
     [xy(GDM_BOUND_BLUE), xy(GDM_BOUND_ORANGE), xy(GDM_BOUND_GREEN)]),
    ("6", ADAM_NAMES, ADAM_TR_SUFFIX, ADAM_BOUND_SUFFIX,
     [grid(ADAM_TR_BLUE), grid(ADAM_TR_ORANGE), grid(ADAM_TR_GREEN)],
     [grid(ADAM_BOUND_BLUE), grid(ADAM_BOUND_ORANGE), grid(ADAM_BOUND_GREEN)]),
]
for ax, names, s_tr, s_bd, trs, bds in BOTTOM:
    lw = 0.9 if ax == "6" else 1.1
    for f, tr, bd in zip(FILLS, trs, bds):
        band(tr, bd, ax, f)
    for c, nm, tr, bd in zip(COLORS, names, trs, bds):
        line(tr[0], tr[1], ax, c, lw, "solid", nm + s_tr)
        line(bd[0], bd[1], ax, c, lw * 0.95, DASHDOT, nm + s_bd)

# ---------------- thresholds ----------------
for ax, vals, texts in [("4", GD_THRESH, GD_THRESH_TEXT), ("5", GDM_THRESH, GDM_THRESH_TEXT),
                        ("6", ADAM_THRESH, ADAM_THRESH_TEXT)]:
    for i, (v, t, c) in enumerate(zip(vals, texts, COLORS)):
        shapes.append(dict(type="line", xref="x%s domain" % ax, yref="y" + ax, x0=0, x1=1, y0=v, y1=v,
                           line=dict(color=c, width=1.0 if i == 0 else 1.6, dash=DASHED),
                           opacity=0.9 if i == 0 else 0.55, layer="above"))
        annotations.append(dict(xref="x" + ax, yref="y" + ax, x=0, y=v, text=t, showarrow=False,
                                xanchor="left", yanchor="middle", xshift=1, yshift=6, borderpad=0,
                                font=dict(family=FONT, size=8, color=c), opacity=0.9 if i == 0 else 0.75))

# ---------------- layout ----------------
XD = [[48.3 / W, 315.0 / W], [370.0 / W, 638.3 / W], [692.7 / W, 961.0 / W]]
YD_TOP = [1 - 658.3 / H, 1 - 483.3 / H]
YD_BOT = [1 - 840.7 / H, 1 - 666.7 / H]

axis_common = dict(showline=True, linecolor="black", linewidth=1.1, mirror=True,
                   ticks="outside", ticklen=3.5, tickwidth=0.8, tickcolor="black",
                   showgrid=True, gridcolor="#d0d0d0", gridwidth=0.8, griddash="dot",
                   zeroline=False, tickfont=dict(family=FONT, size=7, color="#222"))
label_font = dict(family=FONT, size=9.8, color="black")

layout = dict(width=W, height=H, margin=dict(l=0, r=0, t=0, b=0), showlegend=False,
              paper_bgcolor="white", plot_bgcolor="white", font=dict(family=FONT))
y_specs = [(LOSS_RANGE, LOSS_TICKS, ".1f"), (LOSS_RANGE, LOSS_TICKS, ".1f"), (LOSS_RANGE, LOSS_TICKS, ".1f"),
           (GD_TR_RANGE, GD_TR_TICKS, "d"), (GDM_TR_RANGE, GDM_TR_TICKS, "d"), (ADAM_TR_RANGE, ADAM_TR_TICKS, "d")]
for n in range(1, 7):
    sfx = "" if n == 1 else str(n)
    top = n <= 3
    xa = dict(axis_common, domain=XD[(n - 1) % 3], anchor="y" + sfx, range=[0, X_MAX],
              tickvals=X_TICKS, tickformat="d", showticklabels=not top)
    if not top:
        xa["title"] = dict(text="Iteration", font=label_font, standoff=1)
    rng, tv, fmt = y_specs[n - 1]
    ya = dict(axis_common, domain=YD_TOP if top else YD_BOT, anchor="x" + sfx, range=rng,
              tickvals=tv, tickformat=fmt)
    layout["xaxis" + sfx] = xa
    layout["yaxis" + sfx] = ya

# y-axis titles (pixel centres)
for txt, (cx, cy) in zip(Y_TITLES, [(26.5, 570.8), (14.5, 753.7), (336.5, 753.7), (659, 753.7)]):
    annotations.append(dict(xref="paper", yref="paper", x=px_x(cx), y=px_y(cy), text=txt, textangle=-90,
                            showarrow=False, xanchor="center", yanchor="middle", font=label_font))

# subplot titles
for t, d in zip(TITLES, XD):
    annotations.append(dict(xref="paper", yref="paper", x=(d[0] + d[1]) / 2, y=px_y(476), text=t,
                            showarrow=False, xanchor="center", yanchor="middle",
                            font=dict(family=FONT, size=12, color="black")))

# legends (drawn after thresholds so they sit on top)
TOP_ROWS = [494.0, 504.3, 514.6]
TOP_BOX = [(241.7, 311.0, 245.0, 261.0, 264.5), (584.3, 636.0, 587.0, 602.0, 606.0),
           (888.3, 958.3, 891.0, 906.0, 909.5)]
for (l, r, sx0, sx1, tx), (_, names, _s) in zip(TOP_BOX, TOP):
    legend_box((l, 487.0, r, 521.5), TOP_ROWS,
               [(sx0, sx1, tx, [(c, "solid", nm) for c, nm in zip(COLORS, names)])], 7.2)

BOT_ROWS = [675.3, 685.2, 695.1]
BOT_BOX = [(71.7, 309.5, (73.5, 88.5, 92.5), (178.0, 193.0, 196.5)),
           (404.0, 636.0, (406.5, 421.5, 425.5), (492.5, 508.0, 511.5)),
           (698.5, 958.5, (702.0, 717.0, 720.5), (807.5, 822.5, 826.0))]
for (l, r, c1, c2), (_, names, s_tr, s_bd, _t, _b) in zip(BOT_BOX, BOTTOM):
    legend_box((l, 669.5, r, 702.5), BOT_ROWS,
               [(c1[0], c1[1], c1[2], [(c, "solid", nm + s_tr) for c, nm in zip(COLORS, names)]),
                (c2[0], c2[1], c2[2], [(c, DASHDOT, nm + s_bd) for c, nm in zip(COLORS, names)])], 6.3)

# page header
annotations.append(dict(xref="paper", yref="paper", x=px_x(494), y=px_y(14), text=HEADER,
                        showarrow=False, xanchor="center", yanchor="middle",
                        font=dict(family="Liberation Serif", size=18, color="black")))
shapes.append(dict(type="line", xref="paper", yref="paper", x0=px_x(6), x1=px_x(979),
                   y0=px_y(26), y1=px_y(26), line=dict(color="black", width=2.2)))

layout["shapes"] = shapes
layout["annotations"] = annotations
fig.update_layout(**layout)
fig.write_html("out.html")
